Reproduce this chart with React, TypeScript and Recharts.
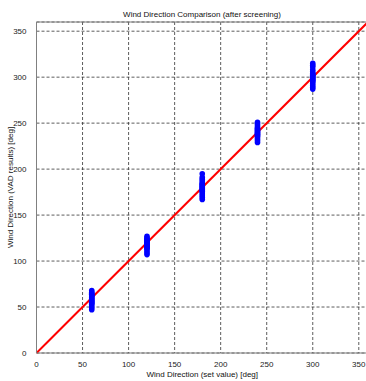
import { ScatterChart, Scatter, XAxis, YAxis, CartesianGrid, ReferenceLine } from 'recharts';

const ticks = [0, 50, 100, 150, 200, 250, 300, 350];

const setValues = [60, 120, 180, 240, 300];

const vad60 = [47, 49, 51, 53, 54, 55, 56, 57, 58, 59, 60, 61, 62, 63, 64, 65, 66, 68];
const vad120 = [107, 109, 111, 113, 114, 115, 116, 117, 118, 119, 120, 121, 122, 123, 124, 125, 127];
const vad180 = [167, 169, 171, 173, 175, 176, 177, 178, 179, 180, 181, 182, 183, 184, 185, 187, 189, 191, 195];
const vad240 = [229, 231, 233, 235, 236, 237, 238, 239, 240, 241, 242, 243, 244, 245, 247, 249, 251];
const vad300 = [287, 289, 291, 293, 295, 296, 297, 298, 299, 300, 301, 302, 303, 304, 306, 308, 311, 313, 315];

const groups = [vad60, vad120, vad180, vad240, vad300];

const points = groups.flatMap((g, i) => g.map((y) => ({ x: setValues[i], y })));

const font = '"Liberation Sans", Arial, sans-serif';
const tickStyle = { fontSize: 8, fill: '#222', fontFamily: font };
const labelStyle = { fontSize: 8, fill: '#111', fontFamily: font };

export default function App() {
  return (
    <div style={{ position: 'fixed', left: 0, top: 0, width: 366, height: 381, overflow: 'hidden', background: '#fff' }}>
      <div
        style={{
          position: 'absolute',
          left: 36,
          width: 332,
          top: 10,
          lineHeight: '9px',
          textAlign: 'center',
          fontSize: 8,
          fontFamily: font,
          color: '#111',
        }}
      >
        Wind Direction Comparison (after screening)
      </div>
      <ScatterChart width={378} height={381} margin={{ top: 22, right: 10, bottom: 0, left: 8 }}>
        <CartesianGrid stroke="#333" strokeDasharray="3 2" strokeWidth={0.8} />
        <XAxis
          type="number"
          dataKey="x"
          domain={[0, 360]}
          ticks={ticks}
          allowDataOverflow
          tickLine={false}
          tickMargin={2}
          height={28}
          stroke="#808080"
          tick={tickStyle}
          label={{ value: 'Wind Direction (set value) [deg]', position: 'insideBottom', offset: 4, style: labelStyle }}
        />
        <YAxis
          type="number"
          dataKey="y"
          domain={[0, 360]}
          ticks={ticks}
          allowDataOverflow
          tickLine={false}
          tickMargin={4}
          width={28.5}
          stroke="#808080"
          tick={tickStyle}
          label={{ value: 'Wind Direction (VAD results) [deg]', angle: -90, position: 'insideLeft', offset: 2, style: { ...labelStyle, textAnchor: 'middle' } }}
        />
        <ReferenceLine y={360} stroke="#808080" strokeWidth={1} />
        <ReferenceLine
          segment={[{ x: 0, y: 0 }, { x: 360, y: 360 }]}
          stroke="#ff0000"
          strokeWidth={2}
        />
        <Scatter
          data={points}
          fill="#0000ff"
          isAnimationActive={false}
          shape={(p: any) => <circle cx={p.cx} cy={p.cy} r={2.8} fill="#0000ff" />}
        />
      </ScatterChart>
    </div>
  );
}
